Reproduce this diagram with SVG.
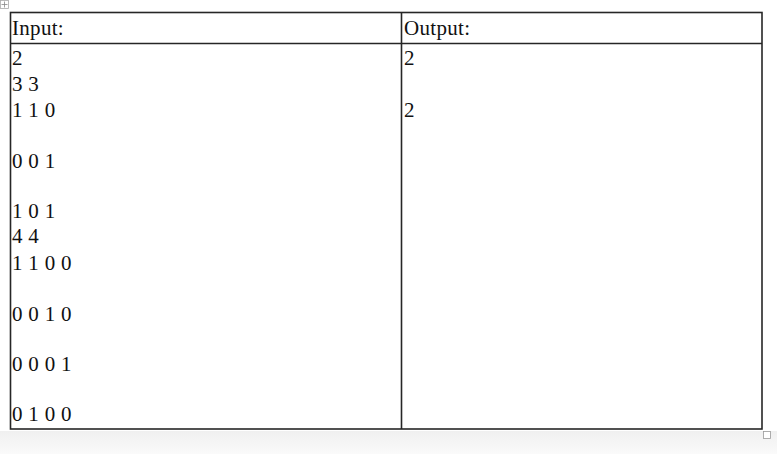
<svg xmlns="http://www.w3.org/2000/svg" width="777" height="454" viewBox="0 0 777 454">
<defs>
<style>
.t{font-family:"Liberation Serif","Times New Roman",serif;font-size:21px;fill:#111;letter-spacing:0.3px}
.ln{stroke:#262626;stroke-width:1.6;fill:none}
</style>
<linearGradient id="bg" x1="0" y1="0" x2="0" y2="1">
<stop offset="0" stop-color="#f0f0f0"/>
<stop offset="1" stop-color="#fafafa"/>
</linearGradient>
</defs>
<rect x="0" y="0" width="777" height="454" fill="#ffffff"/>
<rect x="0" y="431" width="777" height="23" fill="url(#bg)"/>
<g id="ui">
<rect x="0.5" y="0.5" width="8" height="8" fill="#fff" stroke="#aaa" stroke-width="0.8"/>
<path d="M4.5 1.5v6M1.5 4.5h6" stroke="#888" stroke-width="0.8"/>
<rect x="763.5" y="431.5" width="7" height="7" fill="#fff" stroke="#999" stroke-width="0.8"/>
</g>
<g id="table">
<rect class="ln" x="10.5" y="12.5" width="751.5" height="416.5"/>
<line class="ln" x1="10.5" y1="43.5" x2="762" y2="43.5"/>
<line class="ln" x1="401.5" y1="12.5" x2="401.5" y2="429"/>
</g>
<g id="input">
<text class="t" x="12" y="35">Input:</text>
<text class="t" x="12" y="65">2</text>
<text class="t" x="12" y="91">3 3</text>
<text class="t" x="12" y="117">1 1 0</text>
<text class="t" x="12" y="168">0 0 1</text>
<text class="t" x="12" y="218">1 0 1</text>
<text class="t" x="12" y="243">4 4</text>
<text class="t" x="12" y="270">1 1 0 0</text>
<text class="t" x="12" y="321">0 0 1 0</text>
<text class="t" x="12" y="371">0 0 0 1</text>
<text class="t" x="12" y="421">0 1 0 0</text>
</g>
<g id="output">
<text class="t" x="404" y="35">Output:</text>
<text class="t" x="404" y="65">2</text>
<text class="t" x="404" y="117">2</text>
</g>
</svg>
